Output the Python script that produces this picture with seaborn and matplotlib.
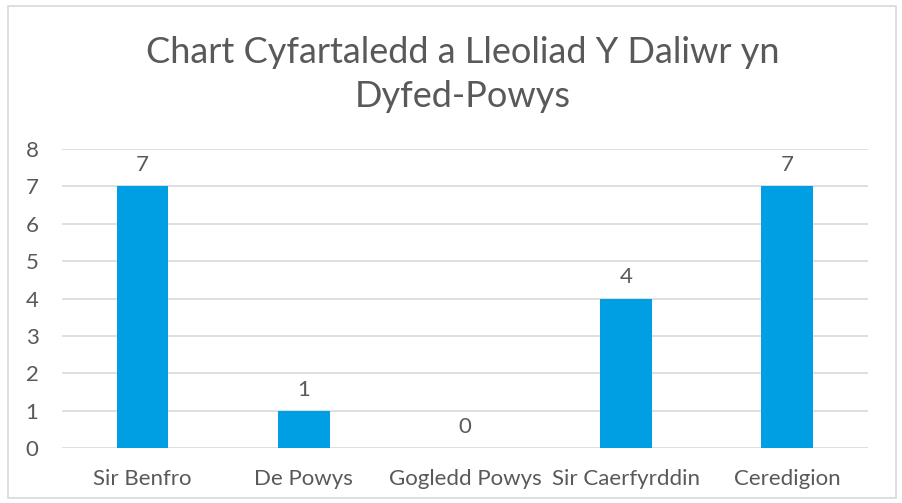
import matplotlib
matplotlib.use("Agg")
import matplotlib.pyplot as plt
import matplotlib.patches as mpatches
import seaborn as sns
import pandas as pd

# ── data ──────────────────────────────────────────────────────────────────────
regions = ["Sir Benfro", "De Powys", "Gogledd Powys", "Sir Caerfyrddin", "Ceredigion"]
counts = [7, 1, 0, 4, 7]

TITLE = "Chart Cyfartaledd a Lleoliad Y Daliwr yn\nDyfed-Powys"
BAR = "#009FE3"
TXT = "#595959"
GRID = "#D9D9D9"

sns.set_theme(style="white")
plt.rcParams["font.family"] = ["Lato", "DejaVu Sans"]

df = pd.DataFrame({"region": regions, "count": counts})

fig = plt.figure(figsize=(9.03, 5.03), dpi=100)
ax = fig.add_axes([0.0687, 0.1093, 0.8923, 0.5945])

sns.barplot(data=df, x="region", y="count", color=BAR, width=0.32,
            saturation=1, linewidth=0, ax=ax, zorder=3)

ax.set_ylim(0, 8)
ax.set_yticks(range(0, 9))
ax.yaxis.grid(True, color=GRID, linewidth=1.2, zorder=0)
ax.set_axisbelow(True)
for s in ax.spines.values():
    s.set_visible(False)
ax.tick_params(axis="both", length=0, labelsize=16, colors=TXT)
ax.tick_params(axis="y", pad=17)
ax.tick_params(axis="x", pad=15)
ax.set_xlabel("")
ax.set_ylabel("")

for c in ax.containers:
    ax.bar_label(c, fmt="%d", padding=8, fontsize=16, color=TXT)

fig.text(0.513, 0.852, TITLE, ha="center", va="center", fontsize=26,
         color=TXT, linespacing=1.42)

# light chart border
fig.patches.append(mpatches.Rectangle((8 / 903, 5 / 503), 888 / 903, 492 / 503,
                                      transform=fig.transFigure, fill=False,
                                      edgecolor=GRID, linewidth=1.2))

fig.savefig("out.png", dpi=100)
